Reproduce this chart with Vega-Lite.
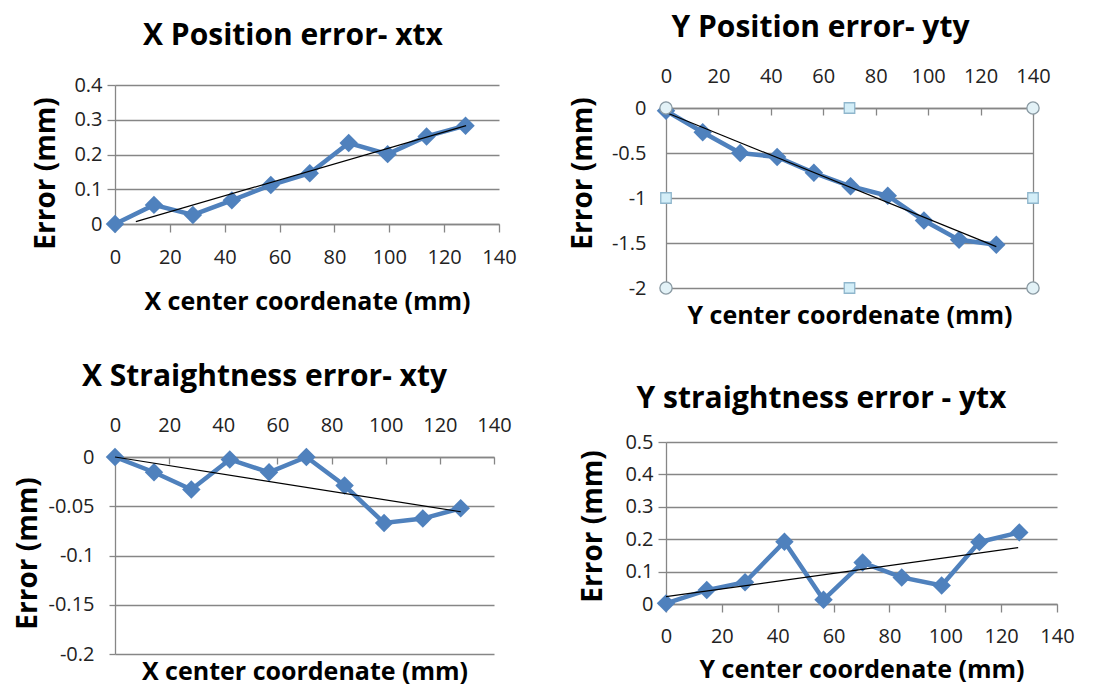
{
  "$schema": "https://vega.github.io/schema/vega-lite/v6.json",
  "background": "white",
  "padding": {"left": 14, "top": 13, "right": 5, "bottom": 0},
  "config": {
    "view": {"stroke": null},
    "font": "Open Sans",
    "axis": {"labelFont": "Open Sans", "labelFontSize": 20, "labelColor": "#222", "labelFlush": false, "titleFont": "Open Sans", "titleFontSize": 25, "titleFontWeight": "bold", "titleColor": "#000", "domainColor": "#868686", "tickColor": "#868686", "gridColor": "#868686", "gridOpacity": 1, "domainWidth": 1.3, "gridWidth": 1.3, "tickWidth": 1.3},
    "axisY": {"titleFontSize": 28},
    "title": {"font": "Open Sans", "fontSize": 30, "fontWeight": "bold", "color": "#000"}
  },
  "datasets": {
    "p1": [{"x": 0, "y": 0}, {"x": 14.2, "y": 0.055}, {"x": 28.4, "y": 0.026}, {"x": 42.6, "y": 0.068}, {"x": 56.8, "y": 0.112}, {"x": 71, "y": 0.146}, {"x": 85.2, "y": 0.233}, {"x": 99.4, "y": 0.201}, {"x": 113.6, "y": 0.252}, {"x": 127.8, "y": 0.283}],
    "p1t": [{"x": 7.6, "y": 0.007}, {"x": 128, "y": 0.283}],
    "p2": [{"x": 0, "y": -0.03}, {"x": 14, "y": -0.27}, {"x": 28.3, "y": -0.5}, {"x": 42.4, "y": -0.545}, {"x": 56.4, "y": -0.72}, {"x": 70.4, "y": -0.87}, {"x": 84.6, "y": -0.975}, {"x": 98.4, "y": -1.25}, {"x": 111.8, "y": -1.465}, {"x": 126, "y": -1.52}],
    "p2t": [{"x": 0, "y": -0.05}, {"x": 126, "y": -1.54}],
    "p2h": [{"x": 0, "y": 0, "h": "circle"}, {"x": 140, "y": 0, "h": "circle"}, {"x": 0, "y": -2, "h": "circle"}, {"x": 140, "y": -2, "h": "circle"}, {"x": 70, "y": 0, "h": "square"}, {"x": 0, "y": -1, "h": "square"}, {"x": 140, "y": -1, "h": "square"}, {"x": 70, "y": -2, "h": "square"}],
    "p3": [{"x": 0, "y": 0}, {"x": 14.4, "y": -0.0155}, {"x": 28.2, "y": -0.033}, {"x": 42.4, "y": -0.0025}, {"x": 56.9, "y": -0.0155}, {"x": 70.7, "y": 0}, {"x": 84.8, "y": -0.029}, {"x": 99.4, "y": -0.067}, {"x": 113.7, "y": -0.0625}, {"x": 127.7, "y": -0.052}],
    "p3t": [{"x": 0, "y": 0}, {"x": 127.7, "y": -0.0556}],
    "p4": [{"x": 0, "y": 0.002}, {"x": 14.6, "y": 0.043}, {"x": 28.3, "y": 0.067}, {"x": 42.4, "y": 0.192}, {"x": 56.4, "y": 0.013}, {"x": 70.4, "y": 0.128}, {"x": 84.4, "y": 0.082}, {"x": 98.7, "y": 0.057}, {"x": 112.2, "y": 0.191}, {"x": 126.5, "y": 0.221}],
    "p4t": [{"x": 0, "y": 0.0225}, {"x": 126.1, "y": 0.174}]
  },
  "spacing": 52,
  "hconcat": [
    {
      "spacing": 48,
      "vconcat": [
        {
          "width": 384, "height": 139,
          "title": {"text": "X Position error- xtx", "offset": 24, "dx": -14},
          "encoding": {
            "x": {"field": "x", "type": "quantitative", "scale": {"domain": [0, 140], "nice": false}, "axis": {"values": [0, 20, 40, 60, 80, 100, 120, 140], "grid": false, "tickSize": 8, "labelPadding": 15, "title": "X center coordenate (mm)", "titlePadding": 22}},
            "y": {"field": "y", "type": "quantitative", "scale": {"domain": [0, 0.4], "nice": false}, "axis": {"values": [0, 0.1, 0.2, 0.3, 0.4], "labelExpr": "'' + datum.value", "tickSize": 8, "labelPadding": 5, "title": "Error (mm)", "titlePadding": 13, "titleY": 88}}
          },
          "layer": [
            {"data": {"name": "p1"}, "mark": {"type": "line", "color": "#4F81BD", "strokeWidth": 4.5}},
            {"data": {"name": "p1"}, "mark": {"type": "point", "shape": "diamond", "filled": true, "size": 340, "color": "#4F81BD", "opacity": 1}},
            {"data": {"name": "p1t"}, "mark": {"type": "line", "color": "#000", "strokeWidth": 1.2}}
          ]
        },
        {
          "width": 379, "height": 197,
          "title": {"text": "X Straightness error- xty", "offset": 23, "dx": -40},
          "layer": [
            {"data": {"name": "p3"}, "mark": {"type": "line", "color": "#4F81BD", "strokeWidth": 4.5},
             "encoding": {
               "x": {"field": "x", "type": "quantitative", "scale": {"domain": [0, 140], "nice": false}, "axis": {"orient": "top", "values": [0, 20, 40, 60, 80, 100, 120, 140], "grid": false, "tickSize": -7, "labelPadding": 29, "title": null}},
               "y": {"field": "y", "type": "quantitative", "scale": {"domain": [-0.2, 0], "nice": false}, "axis": {"values": [0, -0.05, -0.1, -0.15, -0.2], "labelExpr": "'' + datum.value", "tickSize": 6, "labelPadding": 15, "title": "Error (mm)", "titlePadding": 6, "titleY": 96}}
             }},
            {"data": {"name": "p3"}, "mark": {"type": "point", "shape": "diamond", "filled": true, "size": 340, "color": "#4F81BD", "opacity": 1},
             "encoding": {"x": {"field": "x", "type": "quantitative", "axis": null}, "y": {"field": "y", "type": "quantitative", "axis": null}}},
            {"data": {"name": "p3t"}, "mark": {"type": "line", "color": "#000", "strokeWidth": 1.2},
             "encoding": {
               "x": {"field": "x", "type": "quantitative", "axis": {"orient": "bottom", "labels": false, "ticks": false, "domain": false, "grid": false, "title": "X center coordenate (mm)", "titlePadding": 5}},
               "y": {"field": "y", "type": "quantitative", "axis": null}
             }}
          ],
          "resolve": {"axis": {"x": "independent", "y": "independent"}}
        }
      ]
    },
    {
      "spacing": 56,
      "vconcat": [
        {
          "width": 367, "height": 203,
          "title": {"text": "Y Position error- yty", "offset": 23, "dx": -29},
          "layer": [
            {"data": {"name": "p2"}, "mark": {"type": "line", "color": "#4F81BD", "strokeWidth": 4.5},
             "encoding": {
               "x": {"field": "x", "type": "quantitative", "scale": {"domain": [0, 140], "nice": false}, "axis": {"orient": "top", "offset": -23, "values": [0, 20, 40, 60, 80, 100, 120, 140], "grid": false, "tickSize": -7, "labelPadding": 29, "title": null}},
               "y": {"field": "y", "type": "quantitative", "scale": {"domain": [-2, 0], "nice": false, "range": [203, 23]}, "axis": {"values": [0, -0.5, -1, -1.5, -2], "labelExpr": "'' + datum.value", "ticks": false, "tickSize": 0, "labelPadding": 20, "title": "Error (mm)", "titlePadding": 14, "titleY": 88}}
             }},
            {"data": {"name": "p2"}, "mark": {"type": "point", "shape": "diamond", "filled": true, "size": 340, "color": "#4F81BD", "opacity": 1},
             "encoding": {"x": {"field": "x", "type": "quantitative", "axis": null}, "y": {"field": "y", "type": "quantitative", "axis": null}}},
            {"data": {"name": "p2t"}, "mark": {"type": "line", "color": "#000", "strokeWidth": 1.2},
             "encoding": {
               "x": {"field": "x", "type": "quantitative", "axis": {"orient": "bottom", "labels": false, "ticks": false, "domain": false, "grid": false, "title": "Y center coordenate  (mm)", "titlePadding": 15}},
               "y": {"field": "y", "type": "quantitative", "axis": null}
             }},
            {"data": {"name": "p2h"}, "transform": [{"filter": "datum.h == 'circle'"}], "mark": {"type": "point", "shape": "circle", "filled": true, "size": 150, "color": "#e3f2f7", "stroke": "#8a9aa3", "strokeWidth": 1.3, "opacity": 1},
             "encoding": {
               "x": {"field": "x", "type": "quantitative", "axis": null},
               "y": {"field": "y", "type": "quantitative", "axis": {"orient": "right", "labels": false, "ticks": false, "grid": false, "domain": true, "title": null}}
             }},
            {"data": {"name": "p2h"}, "transform": [{"filter": "datum.h == 'square'"}], "mark": {"type": "point", "shape": "square", "filled": true, "size": 110, "color": "#d3eef8", "stroke": "#8fb6cc", "strokeWidth": 1.3, "opacity": 1},
             "encoding": {"x": {"field": "x", "type": "quantitative", "axis": null}, "y": {"field": "y", "type": "quantitative", "axis": null}}}
          ],
          "resolve": {"axis": {"x": "independent", "y": "independent"}}
        },
        {
          "width": 391, "height": 162,
          "title": {"text": "Y straightness error - ytx", "offset": 18, "dx": -40},
          "encoding": {
            "x": {"field": "x", "type": "quantitative", "scale": {"domain": [0, 140], "nice": false}, "axis": {"values": [0, 20, 40, 60, 80, 100, 120, 140], "grid": false, "tickSize": 8, "labelPadding": 14, "title": "Y center coordenate (mm)", "titlePadding": 11}},
            "y": {"field": "y", "type": "quantitative", "scale": {"domain": [0, 0.5], "nice": false}, "axis": {"values": [0, 0.1, 0.2, 0.3, 0.4, 0.5], "labelExpr": "'' + datum.value", "tickSize": 8, "labelPadding": 5, "title": "Error (mm)", "titlePadding": 17, "titleY": 84}}
          },
          "layer": [
            {"data": {"name": "p4"}, "mark": {"type": "line", "color": "#4F81BD", "strokeWidth": 4.5}},
            {"data": {"name": "p4"}, "mark": {"type": "point", "shape": "diamond", "filled": true, "size": 340, "color": "#4F81BD", "opacity": 1}},
            {"data": {"name": "p4t"}, "mark": {"type": "line", "color": "#000", "strokeWidth": 1.2}}
          ]
        }
      ]
    }
  ]
}
